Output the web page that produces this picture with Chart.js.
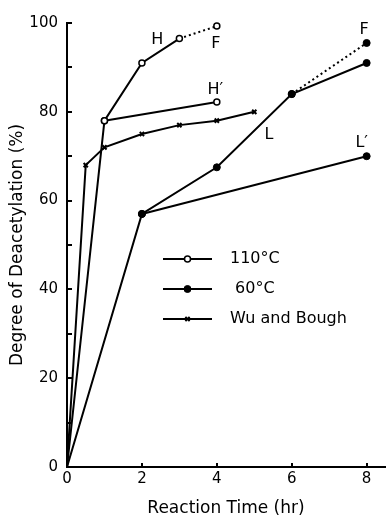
<!DOCTYPE html>
<html>
<head>
<meta charset="utf-8">
<script src="https://cdn.jsdelivr.net/npm/chart.js@4"></script>
<style>
  body { margin: 0; background: #fff; }
</style>
</head>
<body>
<canvas id="chart" width="391" height="515"></canvas>
<script>
// reaction time (hr) and degree of deacetylation (%)
var time110 = [0, 1, 2, 3, 4];
var deg110 = [0, 78, 91, 96.5, 99.3];
var time110H = [1, 4];
var deg110H = [78, 82.2];

var time60 = [0, 2, 4, 6, 8];
var deg60 = [0, 57, 67.5, 84, 91];
var time60F = [6, 8];
var deg60F = [84, 95.5];
var time60L = [2, 8];
var deg60L = [57, 70];

var timeWu = [0, 0.5, 1, 2, 3, 4, 5];
var degWu = [0, 68, 72, 75, 77, 78, 80];

var seriesNames = ["110\u00b0C", " 60\u00b0C", "Wu and Bough"];
var xTicks = [0, 2, 4, 6, 8];

var fontName = "'DejaVu Sans', sans-serif";

function pts(xs, ys) {
    return xs.map((x, i) => ({x: x, y: ys[i]}));
}

// hide the marker that sits on the origin
function markerSize(size) {
    return (c) => (c.raw && c.raw.x === 0 ? 0 : size);
}

var openDot = {pointStyle: "circle", pointBackgroundColor: "#fff", pointBorderColor: "#000", pointBorderWidth: 1.5, pointRadius: markerSize(3)};
var fullDot = {pointStyle: "circle", pointBackgroundColor: "#000", pointBorderColor: "#000", pointBorderWidth: 1, pointRadius: markerSize(3.5)};
var crossDot = {pointStyle: "crossRot", pointBackgroundColor: "#000", pointBorderColor: "#000", pointBorderWidth: 2, pointRadius: markerSize(3)};

function lineSet(label, data, marker, extra) {
    return Object.assign({
        label: label,
        data: data,
        showLine: true,
        borderColor: "#000",
        borderWidth: 2,
        clip: false
    }, marker, extra || {});
}

// letters written next to the curves, in data units (left edge, middle)
var notes = [
    {text: "H", x: 2.25, y: 96.3},
    {text: "F", x: 3.85, y: 95.4},
    {text: "H\u2032", x: 3.75, y: 84.9},
    {text: "F", x: 7.81, y: 98.5},
    {text: "L", x: 5.27, y: 74.9},
    {text: "L\u2032", x: 7.70, y: 72.9}
];

var notePlugin = {
    id: "notes",
    afterDatasetsDraw(chart) {
        var ctx = chart.ctx;
        var xs = chart.scales.x, ys = chart.scales.y;
        ctx.save();
        ctx.fillStyle = "#000";
        ctx.font = "16px " + fontName;
        ctx.textAlign = "left";
        ctx.textBaseline = "middle";
        notes.forEach(n => {
            ctx.fillText(n.text, xs.getPixelForValue(n.x), ys.getPixelForValue(n.y));
        });
        ctx.restore();
    }
};

var keyPlugin = {
    id: "key",
    afterDraw(chart) {
        var ctx = chart.ctx;
        var marks = [openDot, fullDot, crossDot];
        var sizes = [3, 3.5, 3];
        ctx.save();
        ctx.font = "16px " + fontName;
        ctx.textAlign = "left";
        ctx.textBaseline = "middle";
        marks.forEach((m, i) => {
            var y = 259 + i * 30;
            ctx.strokeStyle = "#000";
            ctx.lineWidth = 2;
            ctx.beginPath();
            ctx.moveTo(163, y);
            ctx.lineTo(212, y);
            ctx.stroke();
            ctx.fillStyle = m.pointBackgroundColor;
            ctx.strokeStyle = m.pointBorderColor;
            ctx.lineWidth = m.pointBorderWidth;
            Chart.helpers.drawPoint(ctx, {pointStyle: m.pointStyle, radius: sizes[i], borderWidth: m.pointBorderWidth, rotation: 0}, 187.5, y);
            ctx.fillStyle = "#000";
            ctx.fillText(seriesNames[i], 230, y);
        });
        ctx.restore();
    }
};

new Chart("chart", {
    type: "scatter",
    data: {
        datasets: [
            lineSet(seriesNames[0], pts(time110, deg110), openDot, {
                segment: {borderDash: (c) => (c.p1.parsed.x === 4 ? [2, 3] : undefined)}
            }),
            lineSet(seriesNames[1], pts(time60, deg60), fullDot),
            lineSet(seriesNames[2], pts(timeWu, degWu), crossDot),
            lineSet("H'", pts(time110H, deg110H), openDot),
            lineSet("F", pts(time60F, deg60F), fullDot, {borderDash: [2, 3]}),
            lineSet("L'", pts(time60L, deg60L), fullDot)
        ]
    },
    options: {
        responsive: false,
        animation: false,
        devicePixelRatio: 1,
        layout: {padding: {top: 20, right: 0, left: 0, bottom: 0}},
        plugins: {
            legend: {display: false},
            tooltip: {enabled: false}
        },
        scales: {
            x: {
                type: "linear",
                min: 0,
                max: 8.49,
                afterBuildTicks: (s) => { s.ticks = xTicks.map(v => ({value: v})); },
                afterFit: (s) => { s.height = 48; },
                grid: {drawOnChartArea: false, tickLength: -4, color: "#000", lineWidth: 2},
                border: {color: "#000", width: 2},
                ticks: {color: "#000", padding: 7, maxRotation: 0, autoSkip: false, font: {family: fontName, size: 15}},
                title: {
                    display: true,
                    text: "Reaction Time (hr)",
                    color: "#000",
                    padding: {top: 0, bottom: -2},
                    font: {family: fontName, size: 17, lineHeight: 1}
                }
            },
            y: {
                min: 0,
                max: 100,
                afterFit: (s) => { s.width = 67; },
                grid: {drawOnChartArea: false, tickLength: -5, color: "#000", lineWidth: 2},
                border: {color: "#000", width: 2},
                ticks: {
                    stepSize: 10,
                    color: "#000",
                    padding: 14,
                    font: {family: fontName, size: 15},
                    callback: (v) => (v % 20 === 0 ? v : "")
                },
                title: {
                    display: true,
                    text: "Degree of Deacetylation (%)",
                    color: "#000",
                    padding: {top: 9},
                    font: {family: fontName, size: 17, lineHeight: 1}
                }
            }
        }
    },
    plugins: [notePlugin, keyPlugin]
});
</script>
</body>
</html>
